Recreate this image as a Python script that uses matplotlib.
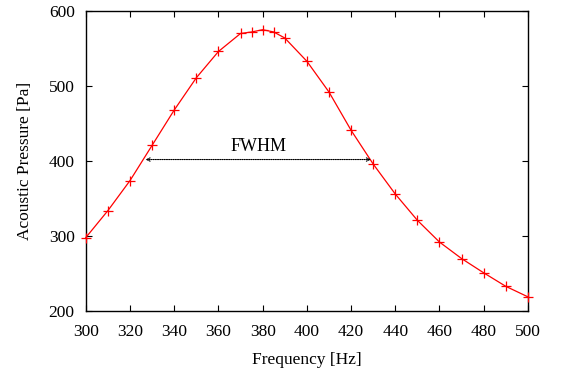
import matplotlib
matplotlib.use("Agg")
from matplotlib import pyplot as plt

plt.rcParams.update({
    "font.family": "serif",
    "font.serif": ["Liberation Serif"],
    "font.size": 12.5,
    "xtick.direction": "in",
    "ytick.direction": "in",
    "xtick.top": True,
    "ytick.right": True,
})

# data
freq = [300, 310, 320, 330, 340, 350, 360, 370, 375, 380, 385, 390,
        400, 410, 420, 430, 440, 450, 460, 470, 480, 490, 500]
pressure = [298, 334, 374, 421, 468, 511, 546, 570, 572, 575, 572, 564,
            533, 492, 441, 396, 356, 321, 292, 270, 251, 233, 219]
fwhm_left, fwhm_right, fwhm_level = 327, 429, 402

fig, ax = plt.subplots(figsize=(5.61, 3.78), dpi=100)
fig.subplots_adjust(left=0.153, right=0.941, top=0.971, bottom=0.177)

ax.plot(freq, pressure, color="red", lw=0.9, marker="+", markersize=7,
        markeredgewidth=0.9, clip_on=False, zorder=3)

ax.annotate("", xy=(fwhm_left, fwhm_level), xytext=(fwhm_right, fwhm_level),
            arrowprops=dict(arrowstyle="<->", color="black", lw=0.8,
                            linestyle=(0, (1, 1)), shrinkA=0, shrinkB=0,
                            mutation_scale=6))
ax.text((fwhm_left + fwhm_right) / 2, fwhm_level + 6, "FWHM",
        ha="center", va="bottom", fontsize=13)

ax.set_xlim(300, 500)
ax.set_ylim(200, 600)
ax.set_xticks(range(300, 501, 20))
ax.set_yticks(range(200, 601, 100))
ax.tick_params(length=4, width=0.8)
ax.tick_params(axis="x", pad=9)
ax.tick_params(axis="y", pad=8)
for s in ax.spines.values():
    s.set_linewidth(1.0)
ax.set_xlabel("Frequency [Hz]", labelpad=9)
ax.set_ylabel("Acoustic Pressure [Pa]", labelpad=11)

fig.savefig("out.png", dpi=100)
